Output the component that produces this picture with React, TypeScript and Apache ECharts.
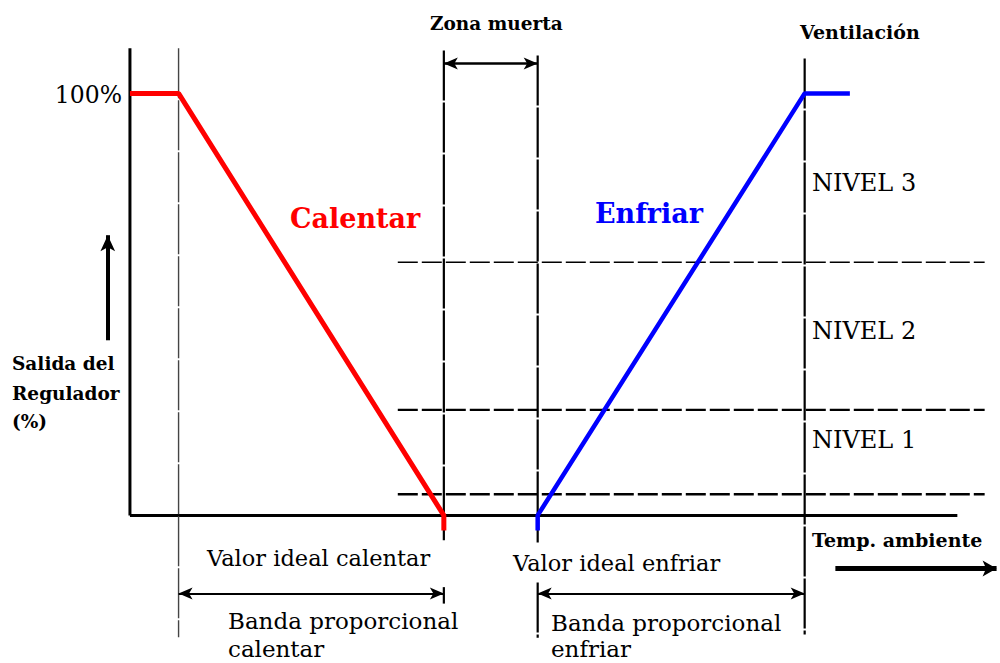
import React, { useEffect, useRef } from "react";
import * as echarts from "echarts";

// Conceptual temperature scale (x) and regulator output in % (y)
const heatX = [0, 5.7, 36.8, 36.8];
const heatY = [100, 100, 0, -3.6];
const coolX = [47.8, 47.8, 79.1, 84.4];
const coolY = [-3.6, 0, 100, 100];

const axisXEnd = 97;
const axisYEnd = 110.7;
const levelY = [60, 25, 5];
const levelWidths = [1.4, 2.4, 2.4];
const levelXRange = [31.4, 100.2];

// vertical reference lines: [x, yTop, yBottom, width, colour]
const verticals: [number, number, number, number, string][] = [
  [5.7, 110.7, -28.9, 1.4, "#444"],
  [36.8, 110.2, -5.9, 2.2, "#000"],
  [47.8, 109, -6.4, 2.2, "#000"],
  [47.8, -15.9, -29, 2.2, "#000"],
  [36.8, -17, -20.9, 2.2, "#000"],
  [79.1, 108.3, -28.2, 2.2, "#000"],
];

const deadZoneArrow = [36.8, 47.8, 107.1];
const bandY = -18.5;
const heatBand = [5.7, 36.8];
const coolBand = [47.8, 79.1];
const tempArrow = [82.7, 101.6, -12.6];
const outArrow = [-2.6, 41.5, 66.4];

const levelLabels = ["NIVEL 3", "NIVEL 2", "NIVEL 1"];

const SERIF = '"DejaVu Serif", "Liberation Serif", serif';

export default function App() {
  const ref = useRef<HTMLDivElement>(null);
  useEffect(() => {
    if (!ref.current) return;
    const chart = echarts.init(ref.current, null, { renderer: "svg" });
    const series: any[] = [];
    const line = (data: number[][], color: string, width: number, type: any = "solid", extra: any = {}) => {
      series.push({
        type: "line",
        data,
        showSymbol: false,
        symbol: "none",
        silent: true,
        clip: false,
        lineStyle: { color, width, type, cap: "butt" },
        z: extra.z ?? 2,
        ...extra,
      });
    };
    // axes
    line([[0, 0], [0, axisYEnd]], "#000", 3);
    line([[0, 0], [axisXEnd, 0]], "#000", 3);
    // levels
    levelY.forEach((y, i) => line([[levelXRange[0], y], [levelXRange[1], y]], "#000", levelWidths[i], [20, 4]));
    // verticals
    verticals.forEach(([x, y1, y2, w, c]) => line([[x, y1], [x, y2]], c, w, [50, 2]));
    // heat / cool
    line(heatX.map((x, i) => [x, heatY[i]]), "#ff0000", 5, "solid", { z: 5 });
    line(coolX.map((x, i) => [x, coolY[i]]), "#0000ff", 4.5, "solid", { z: 5 });

    const ml = (from: number[], to: number[], width: number, symbol: string[], size: any) => ({
      type: "line",
      data: [],
      silent: true,
      markLine: {
        silent: true,
        animation: false,
        symbol,
        symbolSize: size,
        label: { show: false },
        lineStyle: { color: "#000", width, type: "solid" },
        data: [[{ coord: from }, { coord: to }]],
      },
    });
    series.push(ml([deadZoneArrow[0], deadZoneArrow[2]], [deadZoneArrow[1], deadZoneArrow[2]], 2.5, ["arrow", "arrow"], [9, 14]));
    series.push(ml([heatBand[0], bandY], [heatBand[1], bandY], 1.8, ["arrow", "arrow"], [9, 14]));
    series.push(ml([coolBand[0], bandY], [coolBand[1], bandY], 1.8, ["arrow", "arrow"], [9, 14]));
    series.push(ml([tempArrow[0], tempArrow[2]], [tempArrow[1], tempArrow[2]], 5, ["none", "arrow"], [12, 14]));
    series.push(ml([outArrow[0], outArrow[1]], [outArrow[0], outArrow[2]], 4, ["none", "arrow"], [11, 16]));

    const txt = (text: string, x: number, y: number, size: number, bold = false, fill = "#000", align = "left") => ({
      type: "text",
      x,
      y,
      silent: true,
      style: {
        text,
        fill,
        font: `${bold ? "bold " : ""}${size}px ${SERIF}`,
        textAlign: align,
        textVerticalAlign: "middle",
      },
    });

    const graphic = [
      txt("Zona muerta", 430, 23, 18.5, true),
      txt("Ventilación", 800, 32, 19, true),
      txt("100%", 122, 95, 23.5, false, "#000", "right"),
      txt("Calentar", 290, 218, 27, true, "#ff0000"),
      txt("Enfriar", 595, 213, 27, true, "#0000ff"),
      txt(levelLabels[0], 812, 183, 24),
      txt(levelLabels[1], 812, 331, 24),
      txt(levelLabels[2], 812, 440, 24),
      txt("Salida del", 12, 363, 18.5, true),
      txt("Regulador", 12, 393, 18.5, true),
      txt("(%)", 12, 421, 18.5, true),
      txt("Valor ideal calentar", 207, 558, 22.5),
      txt("Valor ideal enfriar", 513, 563, 22.5),
      txt("Banda proporcional", 228, 621, 23),
      txt("calentar", 228, 649, 23),
      txt("Banda proporcional", 551, 623, 23),
      txt("enfriar", 551, 649, 23),
      txt("Temp. ambiente", 812, 540, 19, true),
    ];

    chart.setOption({
      animation: false,
      backgroundColor: "#fff",
      grid: { left: 2, right: 0, top: 47, bottom: 21 },
      xAxis: { type: "value", min: -15, max: 102, show: false, splitLine: { show: false } },
      yAxis: { type: "value", min: -30, max: 111, show: false, splitLine: { show: false } },
      series,
      graphic,
    });
    return () => chart.dispose();
  }, []);
  return <div ref={ref} style={{ width: 1000, height: 663, position: "absolute", left: 0, top: 0 }} />;
}
